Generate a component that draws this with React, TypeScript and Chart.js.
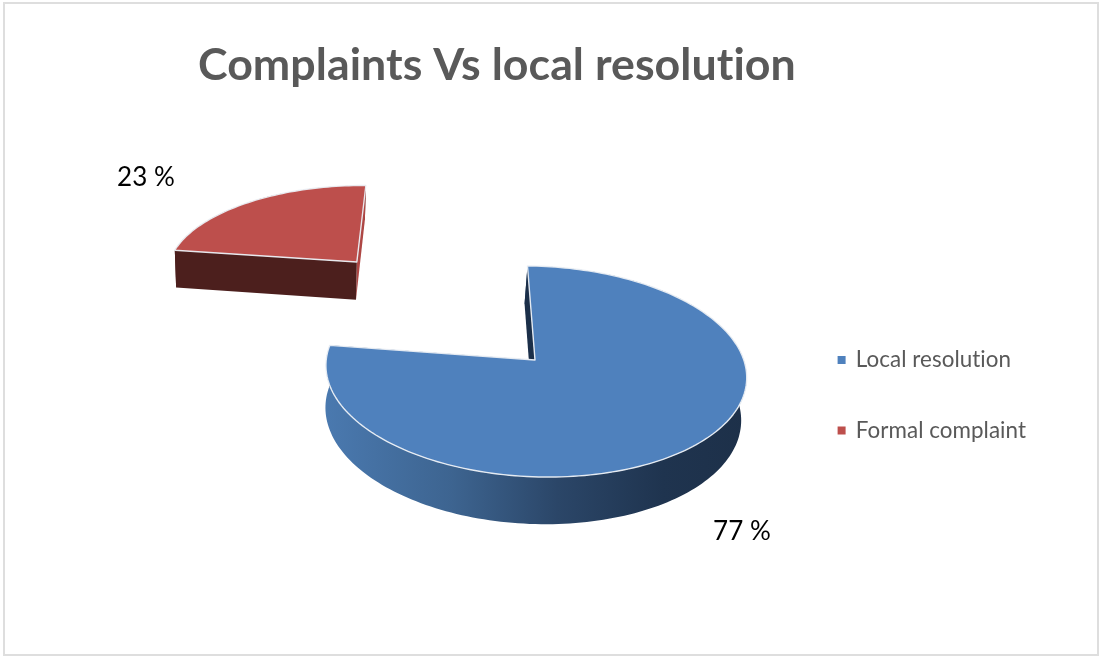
import React, { useEffect, useRef } from "react";
import { Chart, registerables } from "chart.js";

Chart.register(...registerables);

const categories = ["Local resolution", "Formal complaint"];
const shares = [77, 23];
const topColors = ["#4f81bd", "#bd4f4c"];
const chartTitle = "Complaints Vs local resolution";
const valueLabelAnchors = [
  { x: 742, y: 532 },
  { x: 146, y: 178 },
];

// Perspective camera for the tilted pie: a point (px, py) of the pie plane, in
// units of the pie radius, at depth z (0 = top face, 1 = underside).
const HUB = { x: 535, y: 360 };
const SCALE_X = 208.8;
const SCALE_Y = 104.3;
const TILT = 0.109;
const SHEAR = 12;
const DEPTH = 42;
const TAPER = 0.012;
const TAPER_ORIGIN = -250;

function project(px: number, py: number, z = 0) {
  const w = 1 - TILT * py;
  const xx = (SCALE_X * px + SHEAR * py) / w;
  return {
    x: HUB.x + xx - TAPER * (xx - TAPER_ORIGIN) * z,
    y: HUB.y + (SCALE_Y * py + DEPTH * z) / w,
  };
}

function arcPoints(a0: number, a1: number, ox: number, oy: number, z: number) {
  const steps = Math.max(8, Math.ceil(Math.abs(a1 - a0) * 40));
  const pts = [];
  for (let i = 0; i <= steps; i++) {
    const a = a0 + ((a1 - a0) * i) / steps;
    pts.push(project(ox + Math.cos(a), oy + Math.sin(a), z));
  }
  return pts;
}

function tracePolygon(ctx: CanvasRenderingContext2D, pts: { x: number; y: number }[]) {
  ctx.beginPath();
  pts.forEach((p, i) => (i ? ctx.lineTo(p.x, p.y) : ctx.moveTo(p.x, p.y)));
  ctx.closePath();
}

function drawSlice(ctx: CanvasRenderingContext2D, arc: any, index: number) {
  const { startAngle: a0, endAngle: a1, outerRadius } = arc;
  const mid = (a0 + a1) / 2;
  const d = (arc.options.offset || 0) / outerRadius;
  const ox = Math.cos(mid) * d;
  const oy = Math.sin(mid) * d;

  const topArc = arcPoints(a0, a1, ox, oy, 0);
  const lowArc = arcPoints(a0, a1, ox, oy, 1);
  const hubTop = project(ox, oy, 0);
  const hubLow = project(ox, oy, 1);
  const first = topArc[0];
  const last = topArc[topArc.length - 1];
  const firstLow = lowArc[0];
  const lastLow = lowArc[lowArc.length - 1];

  const isBlue = index === 0;

  // outer rim
  let rim: string | CanvasGradient = "#4c1f1d";
  if (isBlue) {
    const g = ctx.createLinearGradient(326, 0, 747, 0);
    g.addColorStop(0, "#4a79af");
    g.addColorStop(0.3, "#3d6490");
    g.addColorStop(0.55, "#2b4668");
    g.addColorStop(0.8, "#1f344f");
    g.addColorStop(1, "#1d3049");
    rim = g;
  }
  tracePolygon(ctx, [...topArc, ...lowArc.slice().reverse()]);
  ctx.fillStyle = rim;
  ctx.fill();

  // the two cut faces running back to the hub
  tracePolygon(ctx, [hubTop, last, lastLow, hubLow]);
  ctx.fillStyle = isBlue ? "#1b2f49" : "#ae4744";
  ctx.fill();
  tracePolygon(ctx, [hubTop, first, firstLow, hubLow]);
  ctx.fillStyle = isBlue ? "#1b2f49" : "#4c1f1d";
  ctx.fill();

  // top face with its pale edge
  tracePolygon(ctx, [hubTop, ...topArc]);
  ctx.fillStyle = arc.options.backgroundColor;
  ctx.fill();
  ctx.strokeStyle = "rgba(236,240,246,0.95)";
  ctx.lineWidth = 1.4;
  ctx.lineJoin = "round";
  ctx.stroke();
}

// a hair of tracking keeps the font's "ti" ligature from forming
const setTracking = (chart: any) => {
  chart.ctx.letterSpacing = "0.05px";
};

const tiltedPie = {
  id: "tiltedPie",
  beforeLayout: setTracking,
  beforeDraw: setTracking,
  beforeDatasetsDraw(chart: any) {
    const { ctx } = chart;
    const arcs = chart.getDatasetMeta(0).data;
    ctx.save();
    // farther slice first
    drawSlice(ctx, arcs[1], 1);
    drawSlice(ctx, arcs[0], 0);
    ctx.restore();
    return false;
  },
  afterDraw(chart: any) {
    const { ctx } = chart;
    ctx.save();
    ctx.font = "26px Lato";
    ctx.fillStyle = "#000000";
    ctx.textAlign = "center";
    ctx.textBaseline = "middle";
    chart.data.datasets[0].data.forEach((v: number, i: number) => {
      ctx.fillText(`${v} %`, valueLabelAnchors[i].x, valueLabelAnchors[i].y);
    });
    ctx.restore();
  },
};

export default function App() {
  const ref = useRef<HTMLCanvasElement>(null);

  useEffect(() => {
    document.body.style.margin = "0";
    const chart = new Chart(ref.current!, {
      type: "pie",
      data: {
        labels: categories,
        datasets: [
          {
            data: shares,
            backgroundColor: topColors,
            borderWidth: 0,
            offset: [0, 137.4],
            radius: 100,
          } as any,
        ],
      },
      plugins: [tiltedPie],
      options: {
        animation: false,
        responsive: false,
        rotation: 1,
        layout: { padding: { left: 198, right: 64, top: 0, bottom: 0 } },
        plugins: {
          title: {
            display: true,
            text: chartTitle,
            align: "start",
            color: "#595959",
            font: { family: "Lato", size: 44.7, weight: "bold" },
            padding: { top: 39, bottom: 41 },
          },
          legend: {
            position: "right",
            fullSize: false,
            labels: {
              usePointStyle: true,
              pointStyle: "rect",
              boxWidth: 6,
              boxHeight: 8,
              padding: 48,
              color: "#595959",
              font: { family: "Lato", size: 22.4 },
            },
          },
          tooltip: { enabled: false },
        },
      } as any,
    });
    return () => chart.destroy();
  }, []);

  return (
    <div style={{ position: "fixed", left: 0, top: 0, width: 1100, height: 657, background: "#ffffff" }}>
      <canvas ref={ref} width={1100} height={657} style={{ display: "block" }} />
      <div
        style={{
          position: "absolute",
          left: 3,
          top: 2,
          width: 1092,
          height: 650,
          border: "2px solid #dedede",
          pointerEvents: "none",
        }}
      />
    </div>
  );
}
